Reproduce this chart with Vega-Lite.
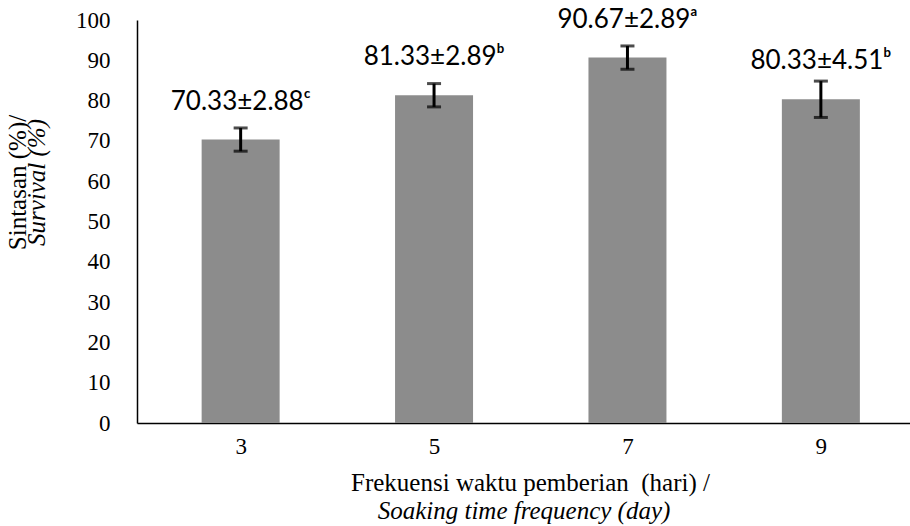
{
  "$schema": "https://vega.github.io/schema/vega-lite/v6.json",
  "autosize": {"type": "none"},
  "width": 773,
  "height": 403,
  "padding": {"left": 137, "top": 20, "right": 0, "bottom": 103},
  "background": "white",
  "config": {"font": "Liberation Serif, Times New Roman, serif", "view": {"stroke": null},
    "axis": {"labelFont": "Liberation Serif, Times New Roman, serif", "titleFont": "Liberation Serif, Times New Roman, serif", "labelColor": "black", "titleColor": "black"}},
  "data": {"values": [
    {"day": 3, "mean": 70.33, "sd": 2.88, "label": "70.33±2.88ᶜ"},
    {"day": 5, "mean": 81.33, "sd": 2.89, "label": "81.33±2.89ᵇ"},
    {"day": 7, "mean": 90.67, "sd": 2.89, "label": "90.67±2.89ᵃ"},
    {"day": 9, "mean": 80.33, "sd": 4.51, "label": "80.33±4.51ᵇ"}
  ]},
  "resolve": {"axis": {"x": "independent", "y": "independent"}, "scale": {"x": "shared", "y": "shared"}},
  "layer": [
    {
      "mark": {"type": "bar", "size": 78, "color": "#8c8c8c"},
      "encoding": {
        "x": {"field": "day", "type": "quantitative",
          "scale": {"domain": [1.98, 9.87], "nice": false, "zero": false},
          "axis": {"orient": "bottom", "values": [3, 5, 7, 9], "format": "d", "ticks": false, "grid": false,
            "domainColor": "black", "domainWidth": 1.5,
            "labelFont": "Liberation Serif, Times New Roman, serif", "labelFontSize": 23, "labelColor": "black", "labelPadding": 12,
            "title": "Frekuensi waktu pemberian \u00a0(hari) /", "titleFont": "Liberation Serif, Times New Roman, serif", "titleFontSize": 25,
            "titleFontWeight": "normal", "titleColor": "black", "titlePadding": 12, "titleX": 393}},
        "y": {"field": "mean", "type": "quantitative",
          "scale": {"domain": [0, 100], "nice": false},
          "axis": {"orient": "left", "values": [0, 10, 20, 30, 40, 50, 60, 70, 80, 90, 100], "format": "d", "ticks": false, "grid": false,
            "domainColor": "black", "domainWidth": 1.5,
            "labelFont": "Liberation Serif, Times New Roman, serif", "labelFontSize": 23, "labelColor": "black", "labelPadding": 27,
            "title": "Sintasan (%)/", "titleFont": "Liberation Serif, Times New Roman, serif", "titleFontSize": 25,
            "titleFontWeight": "normal", "titleColor": "black", "titlePadding": 45, "titleY": 162}}
      }
    },
    {
      "mark": {"type": "errorbar", "color": "black", "rule": {"strokeWidth": 3}, "ticks": {"size": 14, "thickness": 3}},
      "encoding": {
        "x": {"field": "day", "type": "quantitative",
          "axis": {"orient": "bottom", "labels": false, "ticks": false, "domain": false, "grid": false,
            "title": "Soaking time frequency (day)", "titleFont": "Liberation Serif, Times New Roman, serif", "titleFontSize": 25,
            "titleFontWeight": "normal", "titleFontStyle": "italic", "titleColor": "black", "titlePadding": 75}},
        "y": {"field": "mean", "type": "quantitative",
          "axis": {"orient": "left", "labels": false, "ticks": false, "domain": false, "grid": false,
            "title": "Survival (%)", "titleFont": "Liberation Serif, Times New Roman, serif", "titleFontSize": 25,
            "titleFontWeight": "normal", "titleFontStyle": "italic", "titleColor": "black", "titlePadding": 88, "titleY": 162}},
        "yError": {"field": "sd"}
      }
    },
    {
      "mark": {"type": "text", "font": "Lato", "fontSize": 26, "color": "black", "dy": -38, "baseline": "middle"},
      "encoding": {
        "x": {"field": "day", "type": "quantitative", "axis": null},
        "y": {"field": "mean", "type": "quantitative", "axis": null},
        "text": {"field": "label"}
      }
    }
  ]
}
